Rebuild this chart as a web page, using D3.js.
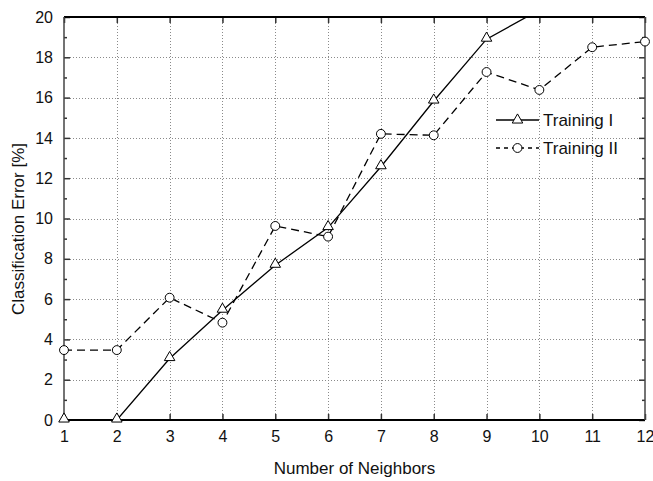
<!DOCTYPE html>
<html>
<head>
<meta charset="utf-8">
<script src="https://cdn.jsdelivr.net/npm/d3@7"></script>
<style>
  body { margin: 0; background: #fff; }
  svg { font-family: "Liberation Sans", Arial, sans-serif; }
</style>
</head>
<body>
<svg id="chart" width="653" height="481"></svg>
<script>
// values
var neighbors = [1, 2, 3, 4, 5, 6, 7, 8, 9, 10, 11, 12];
var trainingI = [0, 0, 3.05, 5.45, 7.68, 9.55, 12.57, 15.83, 18.9, 20.35];
var trainingII = [3.47, 3.47, 6.07, 4.83, 9.63, 9.1, 14.2, 14.13, 17.27, 16.38, 18.5, 18.78];
var xTicks = [1, 2, 3, 4, 5, 6, 7, 8, 9, 10, 11, 12];
var yTicks = [0, 2, 4, 6, 8, 10, 12, 14, 16, 18, 20];
var yMinor = [1, 3, 5, 7, 9, 11, 13, 15, 17, 19];
var seriesNames = ['Training I', 'Training II'];

var margin = {left: 64, right: 8, top: 17, bottom: 61};
var W = 653, H = 481;

var svg = d3.select('#chart');

var x = d3.scaleLinear().domain([1, 12]).range([margin.left, W - margin.right]);
var y = d3.scaleLinear().domain([0, 20]).range([H - margin.bottom, margin.top]);

svg.append('defs').append('clipPath').attr('id', 'plot')
	.append('rect')
		.attr('x', x(1)).attr('y', y(20))
		.attr('width', x(12) - x(1)).attr('height', y(0) - y(20));

// grid
var grid = svg.append('g').attr('class', 'grid')
	.attr('stroke', '#8a8a8a').attr('stroke-width', 1).attr('stroke-dasharray', '1,2');
grid.selectAll('line.gx')
	.data(xTicks.slice(1, -1))
	.enter().append('line')
		.attr('class', 'gx')
		.attr('x1', (d) => Math.round(x(d)) + 0.5).attr('x2', (d) => Math.round(x(d)) + 0.5)
		.attr('y1', y(0)).attr('y2', y(20));
grid.selectAll('line.gy')
	.data(yTicks.slice(1, -1))
	.enter().append('line')
		.attr('class', 'gy')
		.attr('x1', x(1)).attr('x2', x(12))
		.attr('y1', (d) => Math.round(y(d)) + 0.5).attr('y2', (d) => Math.round(y(d)) + 0.5);

// axes: ticks pointing inward on all four sides
var fs = 16;
svg.append('g')
	.attr('transform', 'translate(0,' + y(0) + ')')
	.call(d3.axisBottom(x).tickValues(xTicks).tickSize(-6).tickPadding(11).tickFormat(d3.format('d')))
	.call((g) => g.select('.domain').remove())
	.call((g) => g.selectAll('text').attr('font-size', fs).attr('fill', '#111'));
svg.append('g')
	.attr('transform', 'translate(0,' + y(20) + ')')
	.call(d3.axisTop(x).tickValues(xTicks).tickSize(-6).tickFormat(''))
	.call((g) => g.select('.domain').remove());
svg.append('g')
	.attr('transform', 'translate(' + x(1) + ',0)')
	.call(d3.axisLeft(y).tickValues(yTicks).tickSize(-6).tickPadding(11).tickFormat(d3.format('d')))
	.call((g) => g.select('.domain').remove())
	.call((g) => g.selectAll('text').attr('font-size', fs).attr('fill', '#111'));
svg.append('g')
	.attr('transform', 'translate(' + x(1) + ',0)')
	.call(d3.axisLeft(y).tickValues(yMinor).tickSize(-3).tickFormat(''))
	.call((g) => g.select('.domain').remove());
svg.append('g')
	.attr('transform', 'translate(' + x(12) + ',0)')
	.call(d3.axisRight(y).tickValues(yTicks).tickSize(-6).tickFormat(''))
	.call((g) => g.select('.domain').remove());
svg.append('g')
	.attr('transform', 'translate(' + x(12) + ',0)')
	.call(d3.axisRight(y).tickValues(yMinor).tickSize(-3).tickFormat(''))
	.call((g) => g.select('.domain').remove());
svg.selectAll('.tick line').attr('stroke', '#333').attr('stroke-width', 1.5);

// frame: top/bottom black, sides a bit greyer
var frame = svg.append('g').attr('fill', 'none');
frame.append('line')
	.attr('x1', x(1)).attr('x2', x(12)).attr('y1', y(20)).attr('y2', y(20))
	.attr('stroke', '#000').attr('stroke-width', 1.8);
frame.append('line')
	.attr('x1', x(1)).attr('x2', x(12)).attr('y1', y(0)).attr('y2', y(0))
	.attr('stroke', '#000').attr('stroke-width', 1.8);
frame.append('line')
	.attr('x1', x(1)).attr('x2', x(1)).attr('y1', y(0)).attr('y2', y(20))
	.attr('stroke', '#444').attr('stroke-width', 1.5);
frame.append('line')
	.attr('x1', x(12)).attr('x2', x(12)).attr('y1', y(0)).attr('y2', y(20))
	.attr('stroke', '#444').attr('stroke-width', 1.5);

// axis titles
svg.append('text')
	.attr('x', (x(1) + x(12)) / 2).attr('y', 474)
	.attr('text-anchor', 'middle').attr('font-size', 17).attr('fill', '#111')
	.text('Number of Neighbors');
svg.append('text')
	.attr('transform', 'translate(24,229) rotate(-90)')
	.attr('text-anchor', 'middle').attr('font-size', 17).attr('fill', '#111')
	.text('Classification Error [%]');

// series
var plot = svg.append('g').attr('clip-path', 'url(#plot)');
var line = d3.line().x((d, i) => x(neighbors[i])).y((d) => y(d));

plot.append('path').datum(trainingI)
	.attr('d', line)
	.attr('fill', 'none').attr('stroke', '#000').attr('stroke-width', 1.3);
plot.append('path').datum(trainingII)
	.attr('d', line)
	.attr('fill', 'none').attr('stroke', '#000').attr('stroke-width', 1.3)
	.attr('stroke-dasharray', '8,5');

var tri = d3.symbol().type(d3.symbolTriangle).size(48);
var circ = d3.symbol().type(d3.symbolCircle).size(62);

svg.append('g').selectAll('path')
	.data(trainingII)
	.enter().append('path')
		.attr('d', circ)
		.attr('transform', (d, i) => 'translate(' + x(neighbors[i]) + ',' + y(d) + ')')
		.attr('fill', '#fff').attr('stroke', '#000').attr('stroke-width', 1);
svg.append('g').selectAll('path')
	.data(trainingI.filter((d) => d <= 20))
	.enter().append('path')
		.attr('d', tri)
		.attr('transform', (d, i) => 'translate(' + x(neighbors[i]) + ',' + (y(d) - 1) + ')')
		.attr('fill', '#fff').attr('stroke', '#000').attr('stroke-width', 1);

// legend
var lg = svg.append('g').attr('transform', 'translate(496,0)');
var rows = [
	{name: seriesNames[0], yy: 120, dash: null, sym: tri},
	{name: seriesNames[1], yy: 148, dash: '4,4', sym: circ}
];
rows.forEach(function (r) {
	lg.append('line')
		.attr('x1', 0).attr('x2', 43).attr('y1', r.yy).attr('y2', r.yy)
		.attr('stroke', '#000').attr('stroke-width', 1.3)
		.attr('stroke-dasharray', r.dash);
	lg.append('path')
		.attr('d', r.sym)
		.attr('transform', 'translate(21.5,' + r.yy + ')')
		.attr('fill', '#fff').attr('stroke', '#000').attr('stroke-width', 1);
	lg.append('text')
		.attr('x', 47).attr('y', r.yy + 6)
		.attr('font-size', 17).attr('fill', '#111')
		.text(r.name);
});
</script>
</body>
</html>
